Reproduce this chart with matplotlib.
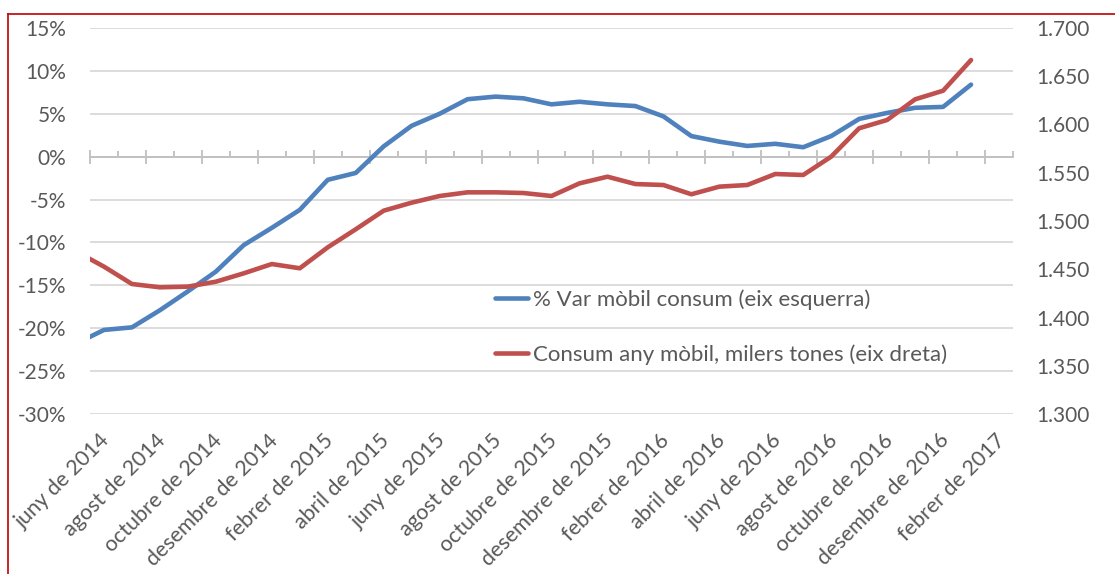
import numpy as np
import matplotlib
matplotlib.use('Agg')
import matplotlib.pyplot as plt
from matplotlib.lines import Line2D
from matplotlib.ticker import FuncFormatter

tick_labels = ['juny de 2014', 'agost de 2014', 'octubre de 2014', 'desembre de 2014',
               'febrer de 2015', 'abril de 2015', 'juny de 2015', 'agost de 2015',
               'octubre de 2015', 'desembre de 2015', 'febrer de 2016', 'abril de 2016',
               'juny de 2016', 'agost de 2016', 'octubre de 2016', 'desembre de 2016',
               'febrer de 2017']

# monthly values, maig 2014 .. gener 2017 (first point falls just left of the axis)
pct_var = [-21.8, -20.2, -19.9, -17.9, -15.7, -13.4, -10.3, -8.3, -6.2, -2.7, -1.9,
           1.2, 3.6, 5.0, 6.7, 7.0, 6.8, 6.1, 6.4, 6.1, 5.9, 4.7, 2.4, 1.75, 1.25,
           1.5, 1.1, 2.4, 4.4, 5.1, 5.7, 5.8, 8.4]
consum = [1468.5, 1452.7, 1434.7, 1431.3, 1432.0, 1437.1, 1445.8, 1455.4, 1451.0,
          1472.7, 1491.4, 1510.7, 1519.0, 1525.9, 1529.7, 1529.7, 1529.0, 1525.9,
          1539.0, 1545.9, 1538.3, 1537.3, 1527.7, 1535.6, 1537.3, 1548.7, 1547.7,
          1566.7, 1596.1, 1604.7, 1626.1, 1635.0, 1666.8]

label_blue = '% Var mòbil consum (eix esquerra)'
label_red = 'Consum any mòbil, milers tones (eix dreta)'

blue = '#4F81BD'
red = '#C0504D'
txt = '#595959'

plt.rcParams['font.family'] = ['Lato', 'DejaVu Sans']
plt.rcParams['font.size'] = 15

W, H = 1115, 574
fig = plt.figure(figsize=(W / 100, H / 100), dpi=100)
ax = fig.add_axes([90 / W, 1 - 414 / H, 923 / W, 386 / H])
ax2 = ax.twinx()

x = np.arange(len(pct_var)) - 0.5
ax.plot(x, pct_var, color=blue, lw=3.3, solid_capstyle='round', zorder=3)
ax2.plot(x, consum, color=red, lw=3.3, solid_capstyle='round', zorder=3)

ax.set_xlim(0, 33)
ax.set_ylim(-30, 15)
ax2.set_ylim(1300, 1700)

ax.set_yticks(range(-30, 16, 5))
ax.yaxis.set_major_formatter(FuncFormatter(lambda v, p: f'{v:.0f}%'))
ax2.set_yticks(range(1300, 1701, 50))
ax2.yaxis.set_major_formatter(FuncFormatter(lambda v, p: f'{v / 1000:.3f}'))

ax.set_axisbelow(True)
ax.yaxis.grid(True, color='#D9D9D9', lw=1.3)
for s in ['top', 'left', 'right']:
    ax.spines[s].set_visible(False)
for s in ax2.spines.values():
    s.set_visible(False)
ax.spines['bottom'].set_position(('data', 0))
ax.spines['bottom'].set_color('#BFBFBF')
ax.spines['bottom'].set_linewidth(1.3)

ax.set_xticks(range(0, 33, 2))
ax.set_xticks(range(1, 34, 2), minor=True)
ax.tick_params(axis='x', which='major', direction='inout', length=10, width=1.3,
               color='#BFBFBF', labelbottom=False)
ax.tick_params(axis='x', which='minor', direction='in', length=4, width=1.3,
               color='#BFBFBF', labelbottom=False)
ax.tick_params(axis='y', length=0, pad=17, labelcolor=txt, labelsize=15)
ax2.tick_params(axis='y', length=0, pad=17, labelcolor=txt, labelsize=15)

for i, lab in enumerate(tick_labels):
    ax.text(i * 2 + 0.6, -0.06, lab, transform=ax.get_xaxis_transform(),
            rotation=45, rotation_mode='anchor', ha='right', va='center',
            color=txt, fontsize=15.5)

handles = [Line2D([], [], color=blue, lw=3.3, solid_capstyle='round'),
           Line2D([], [], color=red, lw=3.3, solid_capstyle='round')]
ax2.legend(handles, [label_blue, label_red], loc='upper left',
           bbox_to_anchor=(495 / W, 1 - 289 / H), bbox_transform=fig.transFigure,
           frameon=False, handlelength=1.5, handletextpad=0.2, labelspacing=1.55,
           borderpad=0, borderaxespad=0, fontsize=16, labelcolor=txt)

# red frame of the original picture (only top and left edges visible)
fig.add_artist(Line2D([8 / W, 1], [1 - 14 / H] * 2, transform=fig.transFigure,
                      color='#C00000', lw=1.2))
fig.add_artist(Line2D([8 / W] * 2, [0, 1 - 14 / H], transform=fig.transFigure,
                      color='#C00000', lw=1.2))

fig.savefig('out.png', dpi=100)
